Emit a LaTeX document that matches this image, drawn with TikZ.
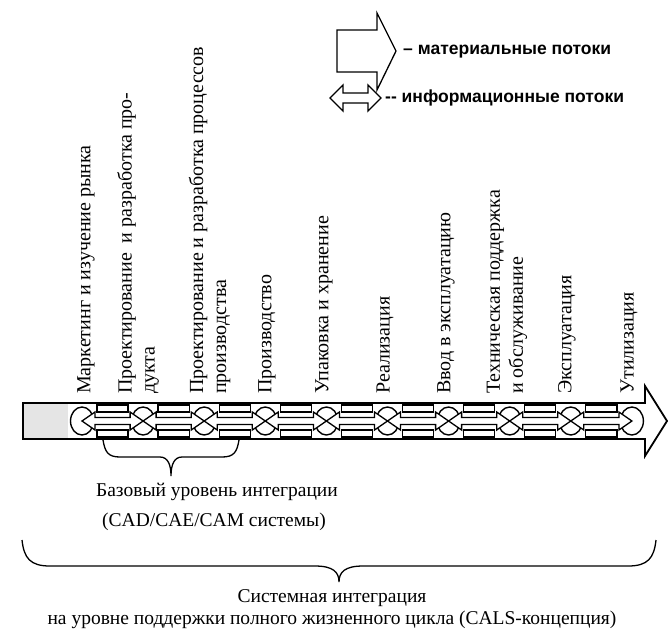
\documentclass[tikz,border=0pt]{standalone}
\usepackage{fontspec}
\setmainfont{Liberation Serif}
\newfontfamily\legendfont{Liberation Sans}
\usetikzlibrary{shapes.geometric}

\begin{document}
\begin{tikzpicture}[x=1pt, y=-1pt,
    stage/.style={ellipse, draw, fill=white, line width=1.4pt,
        minimum width=23pt, minimum height=28pt, inner sep=0pt},
    stagelabel/.style={rotate=90, anchor=west, inner sep=0pt, align=left,
        font=\fontsize{20}{23}\selectfont},
    caption/.style={inner sep=0pt, font=\fontsize{19.5}{23}\selectfont},
    legendtext/.style={anchor=west, inner sep=0pt,
        font=\legendfont\bfseries\fontsize{17.5}{20}\selectfont},
    hollow/.style={draw, fill=white, line width=1.3pt, line join=miter}]

    % Page
    \useasboundingbox (0,0) rectangle (668,630);

    \def\barl{23}    % left end of the bar
    \def\bart{403}   % top of the bar
    \def\barb{439}   % bottom of the bar
    \def\barc{421}   % axis of the bar
    \def\xo{82}      % first stage
    \def\dx{61.1}    % stage spacing
    \def\hl{13}      % head length
    \def\hw{9}       % head half width
    \def\sw{3.5}     % shaft half width

    % Legend
    \filldraw[hollow] (337,30) -- (377,30) -- (377,13) -- (396,51)
        -- (377,90) -- (377,72) -- (337,72) -- cycle;
    \node[legendtext] (matflow) at (403,52) {– материальные потоки};
    \filldraw[hollow] (330,98) -- (343,85) -- (343,93) -- (368,93)
        -- (368,85) -- (381,98) -- (368,111) -- (368,103)
        -- (343,103) -- (343,111) -- cycle;
    \node[legendtext] (infoflow) at (385,98) {-{}- информационные потоки};

    % Material flow (the bar)
    \filldraw[hollow, line width=1.8pt] (\barl,\bart) -- (645,\bart) -- (645,386)
        -- (667,\barc) -- (645,456) -- (645,\barb) -- (\barl,\barb) -- cycle;
    \fill[gray!20] (\barl+1,\bart+1) rectangle (68,\barb-1);

    % Stages
    \foreach \i in {1,...,10}{
        \node[stage] (n\i) at ({\xo+\dx*(\i-1)},\barc) {};
    }

    % Information flows between the stages
    \foreach \i in {1,...,9}{
        \pgfmathtruncatemacro\j{\i+1}
        \draw[hollow] ([shift={(15,-16)}]n\i.center) rectangle ([shift={(-15,-\hw)}]n\j.center);
        \draw[hollow] ([shift={(15,\hw)}]n\i.center) rectangle ([shift={(-15,16)}]n\j.center);
        \filldraw[hollow] (n\i.center) -- ([shift={(\hl,-\hw)}]n\i.center)
            -- ([shift={(\hl,-\sw)}]n\i.center) -- ([shift={(-\hl,-\sw)}]n\j.center)
            -- ([shift={(-\hl,-\hw)}]n\j.center) -- (n\j.center)
            -- ([shift={(-\hl,\hw)}]n\j.center) -- ([shift={(-\hl,\sw)}]n\j.center)
            -- ([shift={(\hl,\sw)}]n\i.center) -- ([shift={(\hl,\hw)}]n\i.center) -- cycle;
    }

    % Stage names
    \foreach \x/\txt [count=\i] in {
        86/{Маркетинг и изучение рынка},
        138/{Проектирование~ и разработка про-\\дукта},
        209.5/{Проектирование и разработка процессов\\производства},
        267/{Производство},
        324/{Упаковка и хранение},
        385/{Реализация},
        446/{Ввод в эксплуатацию},
        507/{Техническая поддержка\\и обслуживание},
        567/{Эксплуатация},
        629/{Утилизация}}{
        \node[stagelabel] (lbl\i) at (\x,394) {\txt};
    }

    % Braces
    \draw[line width=1.3pt] (103,440) .. controls (105,452) and (108,457) .. (120,457)
        -- (160,457) .. controls (168,457) and (171,465) .. (171,476)
        .. controls (171,465) and (174,457) .. (182,457) -- (222,457)
        .. controls (234,457) and (237,452) .. (239,440);
    \draw[line width=1.3pt] (22,540) .. controls (24,558) and (30,566) .. (50,566)
        -- (315,566) .. controls (333,566) and (339,572) .. (339,582)
        .. controls (339,572) and (345,566) .. (363,566) -- (628,566)
        .. controls (648,566) and (654,558) .. (656,540);

    % Integration levels
    \node[caption] (basic) at (217,492) {Базовый уровень интеграции};
    \node[caption] (cad) at (214,522) {(CAD/CAE/CAM системы)};
    \node[caption] (sys) at (332,598) {Системная интеграция};
    \node[caption] (cals) at (332,620) {на уровне поддержки полного жизненного цикла (CALS-концепция)};

\end{tikzpicture}
\end{document}
